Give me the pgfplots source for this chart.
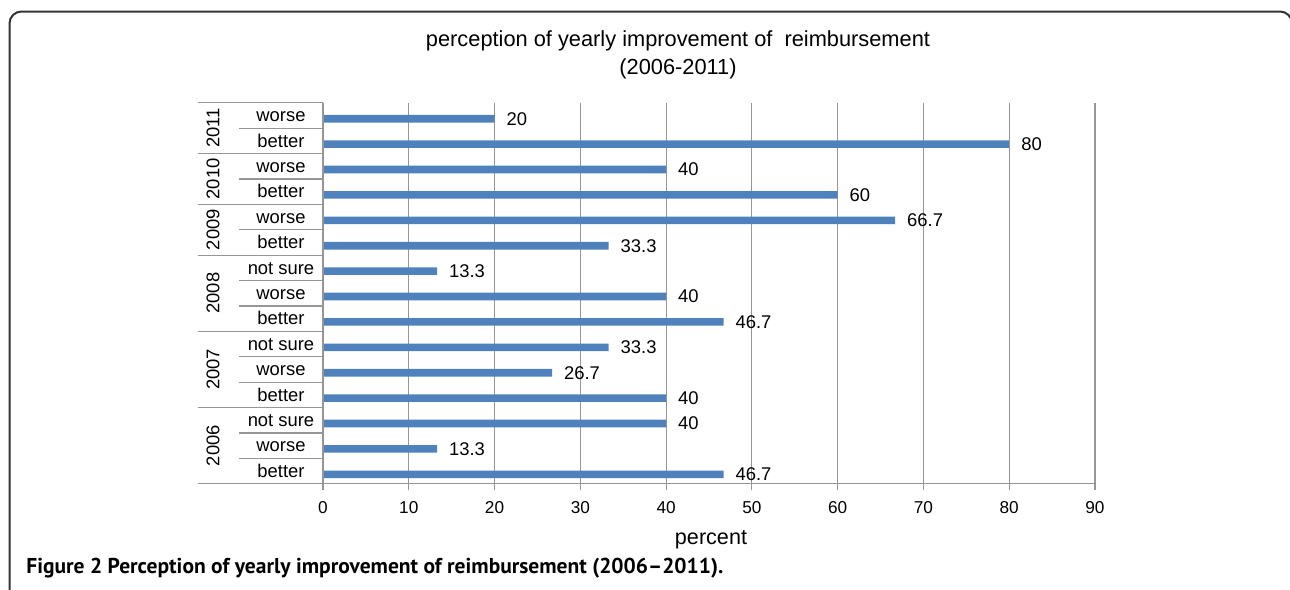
\documentclass[border=0pt]{standalone}
\usepackage{pgfplots}
\pgfplotsset{compat=1.18}
\usepackage{pgfplotstable}
\usepackage{fontspec}
\setmainfont{Liberation Sans}
\newfontfamily\capfont{PT Sans}
\definecolor{barblue}{RGB}{79,129,189}
\definecolor{gridgray}{RGB}{150,150,150}
\pgfplotstableread{
k v
0 46.7
1 13.3
2 40
3 40
4 26.7
5 33.3
6 46.7
7 40
8 13.3
9 33.3
10 66.7
11 60
12 40
13 80
14 20
}\datatable
\begin{document}
\begin{tikzpicture}[x=0.5pt, y=-0.5pt]
\useasboundingbox (0,0) rectangle (1290,589);
% frame
\draw[line width=1pt, rounded corners=6pt, black!80] (9.5,600) -- (9.5,11.5) -- (1292,11.5) -- (1292,600);
\begin{scope}[x=1cm, y=1cm]
\begin{axis}[
  at={(161.5pt,-241.85pt)}, anchor=south west,
  width=386pt, height=190.5pt, scale only axis,
  xbar, bar width=3.8pt,
  xmin=0, xmax=90, ymin=-0.37, ymax=14.63,
  xtick={0,10,...,90}, ytick=\empty,
  xtick pos=lower,
  tick align=outside, major tick length=3pt,
  tick style={gridgray, line width=0.6pt},
  xmajorgrids, grid style={gridgray, line width=0.6pt},
  axis line style={draw=none},
  xticklabel style={font=\fontsize{8.6}{10}\selectfont, yshift=-2.5pt},
  /pgf/number format/assume math mode=true,
  nodes near coords, point meta=explicit symbolic,
  nodes near coords style={font=\fontsize{9.2}{10}\selectfont, anchor=west, xshift=2.5pt, text=black},
  clip=false,
]
\addplot[fill=barblue, draw=none] table[x=v, y=k, meta=v] {\datatable};
\end{axis}
\end{scope}
% axis lines
\draw[gridgray, line width=0.6pt] (198,483.7) -- (1095,483.7);
\draw[gridgray, line width=0.6pt] (323,102.7) -- (323,489.5);
% table lines: group boundaries
\foreach \i in {0,2,4,6,9,12} {
  \draw[gridgray, line width=0.6pt] (198,{102.7+25.4*\i}) -- (323,{102.7+25.4*\i});
}
\foreach \i in {1,3,5,7,8,10,11,13,14} {
  \draw[gridgray, line width=0.6pt] (239,{102.7+25.4*\i}) -- (323,{102.7+25.4*\i});
}
% sub labels
\foreach \i/\t in {0/worse,1/better,2/worse,3/better,4/worse,5/better,6/not sure,7/worse,8/better,9/not sure,10/worse,11/better,12/not sure,13/worse,14/better} {
  \node[font=\fontsize{9.2}{10}\selectfont, inner sep=0, anchor=base] at (281,{102.7+25.4*\i+12.7+6.2}) {\t};
}
% year labels
\foreach \a/\b/\y in {0/2/2011,2/4/2010,4/6/2009,6/9/2008,9/12/2007,12/15/2006} {
  \node[font=\fontsize{9.2}{10}\selectfont, rotate=90, inner sep=0] at (213,{102.7+25.4*(\a+\b)/2}) {\y};
}
% title
\node[font=\fontsize{10.9}{12}\selectfont, anchor=base, inner sep=0] at (678,46.7) {perception of yearly improvement of\ \ reimbursement};
\node[font=\fontsize{10.9}{12}\selectfont, anchor=base, inner sep=0] at (678,74) {(2006-2011)};
% x label
\node[font=\fontsize{10.8}{12}\selectfont, anchor=base, inner sep=0] at (711,544) {percent};
% caption
\node[anchor=base west, inner sep=0] at (26,573) {\capfont\bfseries\fontsize{10.75}{12}\selectfont Figure 2 Perception of yearly improvement of reimbursement (2006–2011).};
\end{tikzpicture}
\end{document}
